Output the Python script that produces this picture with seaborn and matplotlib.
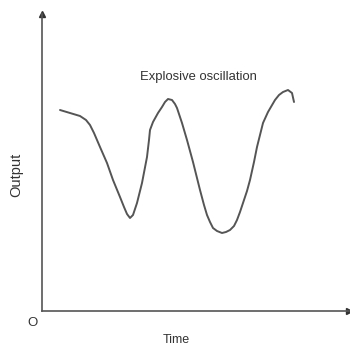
import pandas as pd
import seaborn as sns
import matplotlib.pyplot as plt

# values (time, output)
time = [18, 28, 38, 44, 48, 52, 58, 65, 71, 78, 82, 85, 88, 91, 95, 100, 105,
        107, 108, 111, 116, 120, 123, 126, 130, 133, 135, 140, 145, 151, 158,
        162, 165, 168, 171, 175, 180, 184, 188, 192, 195, 198, 201, 205, 208,
        212, 215, 218, 221, 226, 233, 237, 241, 246, 250, 252]
output = [201, 198, 195, 191, 186, 178, 164, 148, 131, 114, 104, 97, 93, 96,
          108, 128, 154, 171, 181, 189, 198, 204, 209, 212, 211, 207, 203, 188,
          171, 149, 121, 106, 96, 89, 83, 80, 78, 79, 81, 85, 91, 99, 108, 120,
          131, 149, 164, 176, 188, 199, 211, 216, 219, 221, 218, 209]

title = "Explosive oscillation"
x_label = "Time"
y_label = "Output"
origin_label = "O"

sns.set_style("white")
plt.rcParams['font.family'] = ['Liberation Sans', 'DejaVu Sans']

fig = plt.figure(figsize=(3.5, 3.5), dpi=100)
ax = fig.add_axes([42 / 350, 39 / 350, 307 / 350, 297 / 350])

df = pd.DataFrame({"time": time, "output": output})
sns.lineplot(data=df, x="time", y="output", ax=ax, color="#555555",
             linewidth=1.4, sort=False, solid_joinstyle="round",
             solid_capstyle="round")

ax.set_xlim(0, 307)
ax.set_ylim(0, 297)
ax.set_xticks([])
ax.set_yticks([])
ax.set_xlabel("")
ax.set_ylabel("")
for s in ["top", "right"]:
    ax.spines[s].set_visible(False)
for s in ["left", "bottom"]:
    ax.spines[s].set_color("#555555")
    ax.spines[s].set_linewidth(1.2)

# arrow heads on the axes
ax.plot(0, 1, "^", color="#333333", markersize=4, transform=ax.transAxes, clip_on=False)
ax.plot(1, 0, ">", color="#333333", markersize=4, transform=ax.transAxes, clip_on=False)

ax.text(156, 234, title, ha="center", va="center", fontsize=9.4, color="#333333")
fig.text(32 / 350, 1 - 323 / 350, origin_label, ha="center", va="center",
         fontsize=9.5, color="#333333")
fig.text(176 / 350, 1 - 340 / 350, x_label, ha="center", va="center",
         fontsize=9, color="#333333")
fig.text(16 / 350, 1 - 175 / 350, y_label, ha="center", va="center",
         rotation=90, fontsize=10.5, color="#333333")

fig.savefig("out.png", dpi=100)
